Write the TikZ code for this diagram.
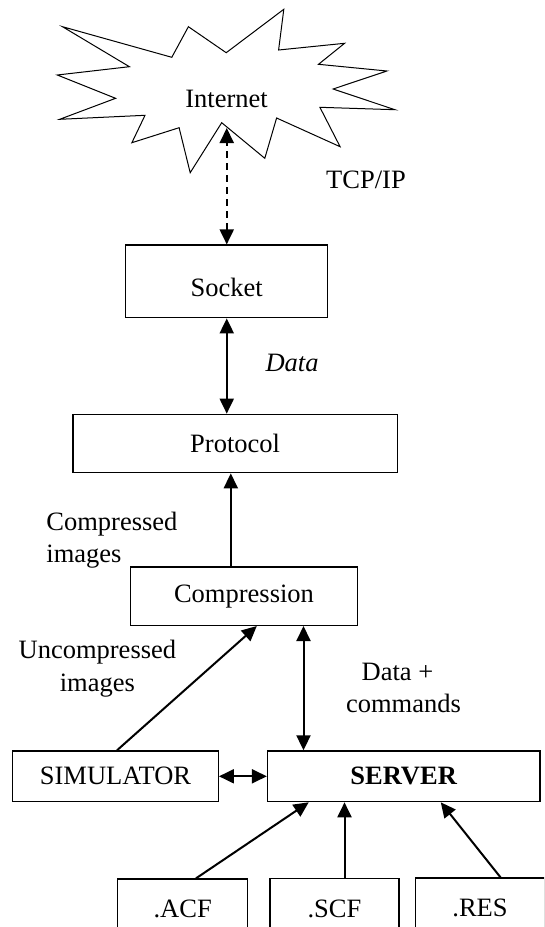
\documentclass[tikz,border=0pt]{standalone}
\usepackage{fontspec}
\setmainfont{Liberation Serif}
\usetikzlibrary{arrows.meta}

\begin{document}
\begin{tikzpicture}[x=1pt,y=-1pt,
    every node/.style={inner sep=0pt,font=\fontsize{26.5}{32.5}\selectfont},
    box/.style={draw,black,line width=1.3pt},
    link/.style={black,line width=2pt,-{Triangle[length=15pt,width=14pt]}},
    twoway/.style={black,line width=2pt,{Triangle[length=15pt,width=14pt]}-{Triangle[length=15pt,width=14pt]}}]
                    \clip (0,0) rectangle (544,927);

                    % cloud
                    \draw[black,line width=1pt] (62.5,26.7) -- (171.8,57.3) -- (188.4,26.7) -- (226.2,52.7)
                        -- (283.8,9.3) -- (278.6,50) -- (344.6,43.3) -- (318.5,64.3) -- (386.9,71)
                        -- (333.1,89) -- (394.9,109.7) -- (319.9,107.3) -- (340.1,146.7) -- (276.6,118)
                        -- (264.8,158.3) -- (221.7,122.7) -- (190.2,172.7) -- (179.1,127.7) -- (131.9,142.7)
                        -- (145,115.3) -- (59.7,119.3) -- (115.6,98.3) -- (57.3,75) -- (129.4,66.7) -- cycle;
                    \node (inet) at (226.6,99){Internet};
                    \coordinate (burst) at (226.75,128);

                    % boxes
                    \node[box,minimum width=202pt,minimum height=72.7pt,text height=31pt,text depth=0pt] (sock) at (226.75,281.4){Socket};
                    \node[box,minimum width=324.4pt,minimum height=58.4pt] (proto) at (235.1,443.5){Protocol};
                    \node[box,minimum width=227pt,minimum height=58.3pt] (compr) at (244,596.2){Compression};
                    \node[box,minimum width=205.6pt,minimum height=50.7pt] (sim) at (115.5,776.3){SIMULATOR};
                    \node[box,minimum width=272.5pt,minimum height=50.7pt] (serv) at (403.75,776.3){\textbf{SERVER}};
                    \node[box,minimum width=130pt,minimum height=60pt] (acf) at (182.7,909){.ACF};
                    \node[box,minimum width=129pt,minimum height=60pt] (scf) at (334.5,908.5){.SCF};
                    \node[box,minimum width=128.6pt,minimum height=60pt] (res) at (480,908){.RES};

                    % labels
                    \node (tcp) at (366,180){TCP/IP};
                    \node (data) at (292,362.7){\textit{Data}};
                    \node[anchor=west,align=left] (cimg) at (46.2,540){Compressed\\images};
                    \node[align=center] (uimg) at (97.4,668.5){Uncompressed\\images};
                    \node[align=center] (dcmd) at (403.5,688){Data +\hspace*{12pt}\\commands};

                    % arrows
                    \draw[twoway,dash pattern=on 7pt off 5pt] (sock.north) -- (burst);
                    \draw[twoway] (sock.south) -- (sock.south |- proto.north);
                    \draw[link] ([xshift=-13.2pt]compr.north) -- ([xshift=-13.2pt]compr.north |- proto.south);
                    \draw[link] ([xshift=1.5pt]sim.north) -- ([xshift=12.8pt]compr.south);
                    \draw[twoway] ([xshift=59.5pt]compr.south) -- ([xshift=59.5pt]compr.south |- serv.north);
                    \draw[twoway] (sim.east) -- (serv.west);
                    \draw[link] ([xshift=13.3pt]acf.north) -- ([xshift=-95pt]serv.south);
                    \draw[link] ([xshift=10pt]scf.north) -- ([xshift=10pt]scf.north |- serv.south);
                    \draw[link] ([xshift=20.5pt]res.north) -- ([xshift=37pt]serv.south);
                \end{tikzpicture}
\end{document}
